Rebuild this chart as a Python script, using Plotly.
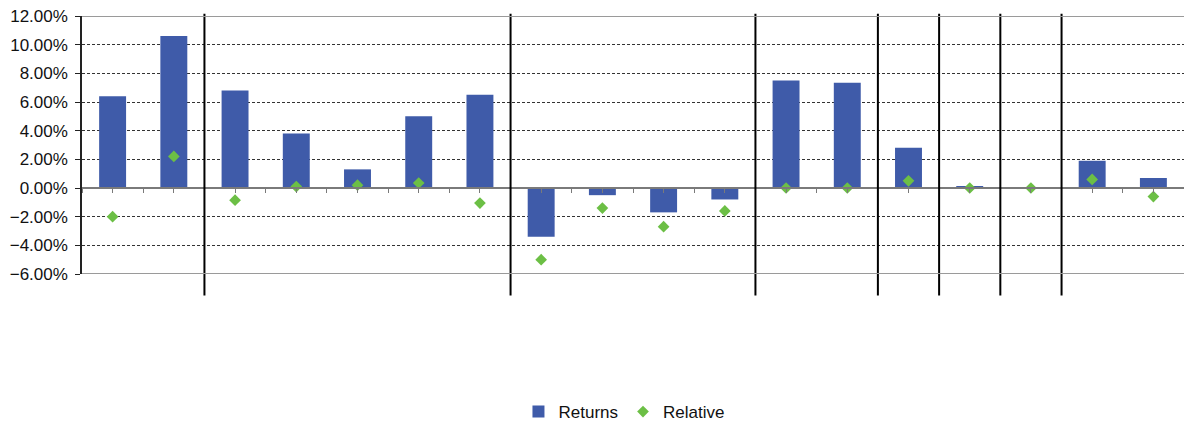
import plotly.graph_objects as go

# ---- data ----
positions = list(range(18))           # 18 unlabeled categories
returns_pct = [6.4, 10.6, 6.8, 3.8, 1.3, 5.0, 6.5, -3.4, -0.5, -1.7, -0.8,
               7.5, 7.35, 2.8, 0.1, 0.0, 1.9, 0.7]
relative_pct = [-2.0, 2.2, -0.85, 0.1, 0.2, 0.35, -1.05, -5.0, -1.4, -2.7, -1.6,
                0.0, 0.0, 0.5, 0.0, 0.0, 0.6, -0.6]
group_sizes = [2, 5, 4, 2, 1, 1, 1, 2]
y_ticks_pct = [-6, -4, -2, 0, 2, 4, 6, 8, 10, 12]

returns = [v / 100 for v in returns_pct]
relative = [v / 100 for v in relative_pct]
y_ticks = [v / 100 for v in y_ticks_pct]
ymin, ymax = y_ticks[0], y_ticks[-1]

FONT = "Liberation Sans, Arial, sans-serif"

fig = go.Figure()
fig.add_trace(go.Bar(
    x=positions, y=returns, name="Returns", width=0.44,
    marker=dict(color="#3F5BA9", line=dict(width=0)),
))
fig.add_trace(go.Scatter(
    x=positions, y=relative, name="Relative", mode="markers",
    marker=dict(symbol="diamond", size=9, color="#6CBF45", line=dict(width=0)),
))

# group dividers
shapes = []
b = -0.5
for g in group_sizes[:-1]:
    b += g
    shapes.append(dict(type="line", xref="x", yref="paper", x0=b, x1=b,
                       y0=-0.083, y1=1.009, line=dict(color="#000000", width=2),
                       layer="above"))
# solid grey top/bottom borders
for yv in (ymin, ymax):
    shapes.append(dict(type="line", xref="paper", yref="y", x0=0, x1=1,
                       y0=yv, y1=yv, line=dict(color="#9a9a9a", width=2),
                       layer="above"))

zero_pos = (0 - ymin) / (ymax - ymin)

fig.update_layout(
    width=1184, height=423,
    margin=dict(l=82, r=0, t=16, b=149),
    paper_bgcolor="white", plot_bgcolor="white",
    font=dict(family=FONT, size=17, color="#111111"),
    showlegend=True,
    legend=dict(orientation="h", xref="container", yref="container",
                x=0.527, xanchor="center", y=0.026, yanchor="middle",
                font=dict(size=17, family=FONT, color="#111111"),
                itemwidth=30, traceorder="normal"),
    shapes=shapes,
    bargap=0.5,
)
fig.update_xaxes(
    range=[-0.5, 17.5], showgrid=False, zeroline=False,
    anchor="free", position=zero_pos,
    showline=True, linecolor="#7a7a7a", linewidth=1.5,
    tickmode="linear", tick0=-0.5, dtick=0.5,
    ticks="outside", ticklen=4, tickcolor="#7a7a7a", tickwidth=1,
    showticklabels=False,
)
fig.update_yaxes(
    range=[ymin, ymax], tickvals=y_ticks, tickformat=".2%",
    showgrid=True, gridcolor="#333333", gridwidth=1, griddash="3px,2px",
    zeroline=False,
    showline=True, linecolor="#222222", linewidth=1.5,
    ticks="outside", ticklen=5, tickcolor="#222222",
    ticklabelstandoff=4,
)

fig.write_html("out.html")
